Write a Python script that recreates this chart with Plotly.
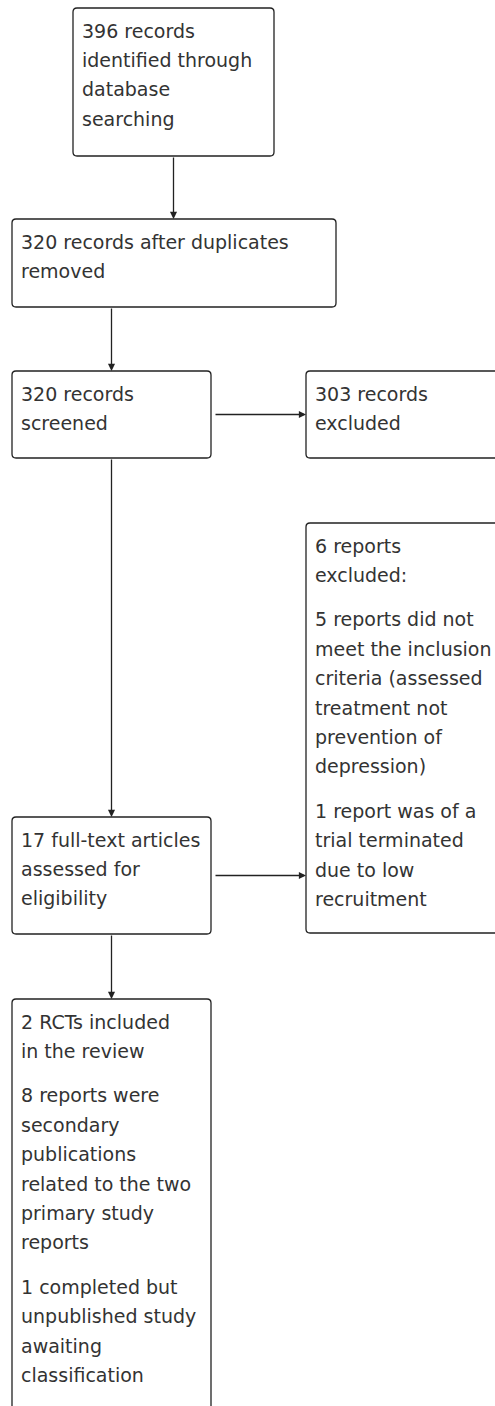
import plotly.graph_objects as go

# ---- content (text of each box, split into paragraphs and lines) ----
identified = [["396 records", "identified through", "database", "searching"]]
after_dupes = [["320 records after duplicates", "removed"]]
screened = [["320 records", "screened"]]
excluded_records = [["303 records", "excluded"]]
excluded_reports = [
    ["6 reports", "excluded:"],
    ["5 reports did not", "meet the inclusion", "criteria (assessed", "treatment not", "prevention of", "depression)"],
    ["1 report was of a", "trial terminated", "due to low", "recruitment"],
]
fulltext = [["17 full-text articles", "assessed for", "eligibility"]]
included = [
    ["2 RCTs included", "in the review"],
    ["8 reports were", "secondary", "publications", "related to the two", "primary study", "reports"],
    ["1 completed but", "unpublished study", "awaiting", "classification"],
]

boxes = [identified, after_dupes, screened, excluded_records, excluded_reports, fulltext, included]

# ---- layout geometry (pixels: left, right, top, bottom) ----
W, H = 495, 1406
geom = [
    (73, 274, 8, 156),
    (12, 336, 219, 307),
    (12, 211, 371, 458),
    (306, 505, 371, 458),
    (306, 505, 523, 933),
    (12, 211, 817, 934),
    (12, 211, 999, 1412),
]
# (source, target, direction)
links = [(0, 1, "v"), (1, 2, "v"), (2, 3, "h"), (2, 5, "v"), (5, 4, "h"), (5, 6, "v")]

FONT = dict(family="DejaVu Sans", size=19, color="#333333")
LINE = "#222222"
PAD_X, FIRST, STEP, PARA = 7.5, 22.5, 29.4, 15.0
R = 4

fig = go.Figure()
shapes, annotations = [], []

for (l, r, t, b), paras in zip(geom, boxes):
    path = (f"M {l+R},{t} L {r-R},{t} Q {r},{t} {r},{t+R} L {r},{b-R} Q {r},{b} {r-R},{b} "
            f"L {l+R},{b} Q {l},{b} {l},{b-R} L {l},{t+R} Q {l},{t} {l+R},{t} Z")
    shapes.append(dict(type="path", xref="x", yref="y", path=path,
                       line=dict(color=LINE, width=1.3), fillcolor="white", layer="below"))
    i = 0
    for p, lines in enumerate(paras):
        for txt in lines:
            y = t + FIRST + STEP * i + PARA * p
            annotations.append(dict(x=l + PAD_X, y=y, xref="x", yref="y", text=txt,
                                    showarrow=False, xanchor="left", yanchor="middle",
                                    font=FONT, borderpad=0))
            i += 1

for s, d, kind in links:
    ls, rs, ts, bs = geom[s]
    ld, rd, td, bd = geom[d]
    if kind == "v":
        x = (ls + rs) / 2 if (rs - ls) <= (rd - ld) else (ld + rd) / 2
        tail, tip = (x, bs), (x, td)
    else:
        y = (ts + bs) / 2
        tail, tip = (rs + 3, y), (ld, y)
    annotations.append(dict(x=tip[0], y=tip[1], ax=tail[0], ay=tail[1], xref="x", yref="y",
                            axref="x", ayref="y", text="", showarrow=True, arrowhead=2,
                            arrowsize=1.1, arrowwidth=1.3, arrowcolor=LINE, standoff=0,
                            startstandoff=0))

fig.update_layout(
    width=W, height=H, margin=dict(l=0, r=0, t=0, b=0),
    paper_bgcolor="white", plot_bgcolor="white",
    xaxis=dict(range=[0, W], visible=False, fixedrange=True),
    yaxis=dict(range=[H, 0], visible=False, fixedrange=True),
    shapes=shapes, annotations=annotations, showlegend=False,
)
fig.write_html(
    "out.html",
    config={"displayModeBar": False},
    post_script="document.body.style.margin='0';document.body.style.overflow='hidden';"
                "document.documentElement.style.overflow='hidden';",
)
